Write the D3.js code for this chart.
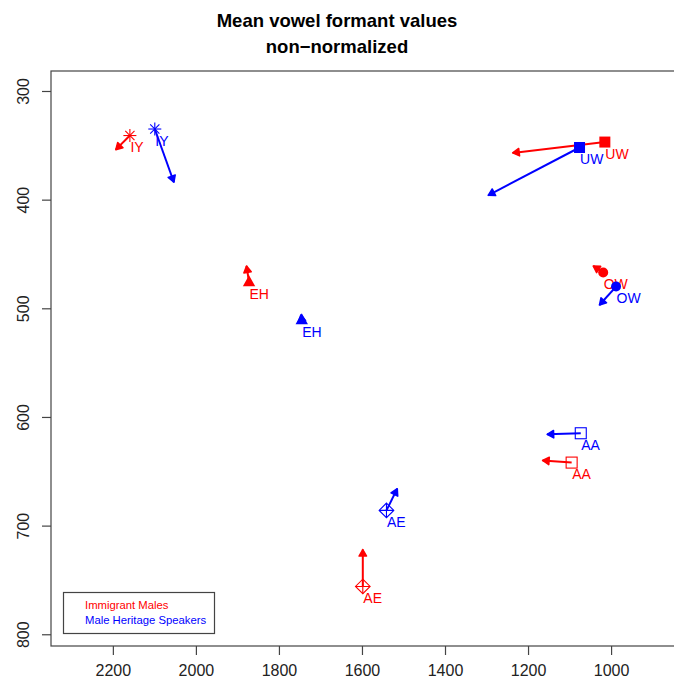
<!DOCTYPE html>
<html>
<head>
<meta charset="utf-8">
<script src="https://cdn.jsdelivr.net/npm/d3@7"></script>
<style>
  html, body { margin: 0; padding: 0; background: #fff; }
  svg { display: block; }
  text { font-family: "Liberation Sans", Arial, Helvetica, sans-serif; }
</style>
</head>
<body>
<div id="chart"></div>
<script>
// ---- Data (F2, F1 in Hz) ----
const vowels = ["IY", "UW", "EH", "OW", "AA", "AE"];
const shapes = ["asterisk", "square", "triangle", "circle", "openSquare", "diamondPlus"];

// Immigrant Males: mean position and arrow end
const immF2    = [2159, 1015, 1872, 1019, 1095, 1598];
const immF1    = [341,  347,  476,  467,  642,  756];
const immF2End = [2193, 1237, 1878, 1043, 1165, 1598];
const immF1End = [354,  357,  461,  461,  640,  722];

// Male Heritage Speakers: mean position and arrow end
const herF2    = [2099, 1076, 1745, 988,  1073, 1541];
const herF1    = [335,  352,  511,  480,  615,  686];
const herF2End = [2053, 1296, 1747, 1028, 1154, 1515];
const herF1End = [384,  396,  506,  497,  616,  666];

const xTicks = [2200, 2000, 1800, 1600, 1400, 1200, 1000];
const yTicks = [300, 400, 500, 600, 700, 800];
const xLimits = [2349, 834];
const yLimits = [281.6, 810.8];

const groups = [
  { name: "Immigrant Males", color: "#ff0000", f2: immF2, f1: immF1, f2e: immF2End, f1e: immF1End },
  { name: "Male Heritage Speakers", color: "#0000ff", f2: herF2, f1: herF1, f2e: herF2End, f1e: herF1End }
];

const W = 674, H = 687;
const plot = { left: 51, right: 680, top: 71, bottom: 646 };

const svg = d3.select("#chart").append("svg").attr("width", W).attr("height", H);

const x = d3.scaleLinear().domain(xLimits).range([plot.left, plot.right]);
const y = d3.scaleLinear().domain(yLimits).range([plot.top, plot.bottom]);

// Title
svg.append("text").attr("x", 337).attr("y", 27).attr("text-anchor", "middle")
  .attr("font-size", 18.5).attr("font-weight", "bold").attr("fill", "#000")
  .text("Mean vowel formant values");
svg.append("text").attr("x", 337).attr("y", 53).attr("text-anchor", "middle")
  .attr("font-size", 18.5).attr("font-weight", "bold").attr("fill", "#000")
  .text("non\u2212normalized");

// Box
svg.append("rect").attr("x", plot.left).attr("y", plot.top)
  .attr("width", plot.right - plot.left).attr("height", plot.bottom - plot.top)
  .attr("fill", "none").attr("stroke", "#444").attr("stroke-width", 1.2);

// X axis
const xAxis = d3.axisBottom(x).tickValues(xTicks).tickSize(9).tickPadding(10).tickFormat(d3.format("d"));
const gx = svg.append("g").attr("transform", `translate(0,${plot.bottom})`).call(xAxis);
gx.select(".domain").remove();
gx.selectAll("line").attr("stroke", "#444").attr("stroke-width", 1.2);
gx.selectAll("text").attr("font-size", 16).attr("fill", "#222")
  .attr("font-family", "Liberation Sans, Arial, sans-serif");

// Y axis
const yAxis = d3.axisLeft(y).tickValues(yTicks).tickSize(9).tickFormat(d3.format("d"));
const gy = svg.append("g").attr("transform", `translate(${plot.left},0)`).call(yAxis);
gy.select(".domain").remove();
gy.selectAll("line").attr("stroke", "#444").attr("stroke-width", 1.2);
gy.selectAll("text")
  .attr("font-size", 16).attr("fill", "#222")
  .attr("font-family", "Liberation Sans, Arial, sans-serif")
  .attr("text-anchor", "middle")
  .attr("x", 0).attr("dy", 0)
  .attr("transform", "translate(-22.5,0) rotate(-90)");

// Symbols
function drawSymbol(g, shape, cx, cy, color) {
  const s = g.append("g").attr("transform", `translate(${cx},${cy})`);
  if (shape === "asterisk") {
    const r = 6.5, d = 4.6;
    [[-r,0,r,0],[0,-r,0,r],[-d,-d,d,d],[-d,d,d,-d]].forEach(l =>
      s.append("line").attr("x1", l[0]).attr("y1", l[1]).attr("x2", l[2]).attr("y2", l[3])
        .attr("stroke", color).attr("stroke-width", 1.1));
  } else if (shape === "square") {
    s.append("rect").attr("x", -5.5).attr("y", -5.5).attr("width", 11).attr("height", 11).attr("fill", color);
  } else if (shape === "triangle") {
    s.append("path").attr("d", "M0,-7L6.2,4L-6.2,4Z").attr("fill", color);
  } else if (shape === "circle") {
    s.append("circle").attr("r", 5).attr("fill", color);
  } else if (shape === "openSquare") {
    s.append("rect").attr("x", -5.5).attr("y", -5.5).attr("width", 11).attr("height", 11)
      .attr("fill", "none").attr("stroke", color).attr("stroke-width", 1.1);
  } else if (shape === "diamondPlus") {
    const r = 7.3;
    s.append("path").attr("d", `M0,${-r}L${r},0L0,${r}L${-r},0Z`)
      .attr("fill", "none").attr("stroke", color).attr("stroke-width", 1.1);
    s.append("path").attr("d", `M${-r},0L${r},0M0,${-r}L0,${r}`)
      .attr("stroke", color).attr("stroke-width", 1.1);
  }
}

function drawArrow(g, x0, y0, x1, y1, color) {
  const dx = x1 - x0, dy = y1 - y0;
  const len = Math.hypot(dx, dy);
  if (len < 0.5) return;
  g.append("line").attr("x1", x0).attr("y1", y0).attr("x2", x1).attr("y2", y1)
    .attr("stroke", color).attr("stroke-width", 2);
  const ang = Math.atan2(dy, dx);
  const hl = 7.5, ha = Math.PI / 6;
  const p1 = [x1 - hl * Math.cos(ang - ha), y1 - hl * Math.sin(ang - ha)];
  const p2 = [x1 - hl * Math.cos(ang + ha), y1 - hl * Math.sin(ang + ha)];
  g.append("path").attr("d", `M${p1[0]},${p1[1]}L${x1},${y1}L${p2[0]},${p2[1]}Z`)
    .attr("fill", color).attr("stroke", color).attr("stroke-width", 1.5).attr("stroke-linejoin", "round");
}

groups.forEach(grp => {
  const g = svg.append("g");
  vowels.forEach((v, i) => {
    const cx = x(grp.f2[i]), cy = y(grp.f1[i]);
    drawArrow(g, cx, cy, x(grp.f2e[i]), y(grp.f1e[i]), grp.color);
    drawSymbol(g, shapes[i], cx, cy, grp.color);
    g.append("text").attr("x", cx + 0.5).attr("y", cy + 16.5)
      .attr("font-size", 14).attr("fill", grp.color).text(v);
  });
});

// Legend
svg.append("rect").attr("x", 63.5).attr("y", 592.5).attr("width", 151).attr("height", 41)
  .attr("fill", "#fff").attr("stroke", "#444").attr("stroke-width", 1.2);
groups.forEach((grp, i) => {
  svg.append("text").attr("x", 85).attr("y", 609 + i * 15)
    .attr("font-size", 11.3).attr("fill", grp.color).text(grp.name);
});
</script>
</body>
</html>
